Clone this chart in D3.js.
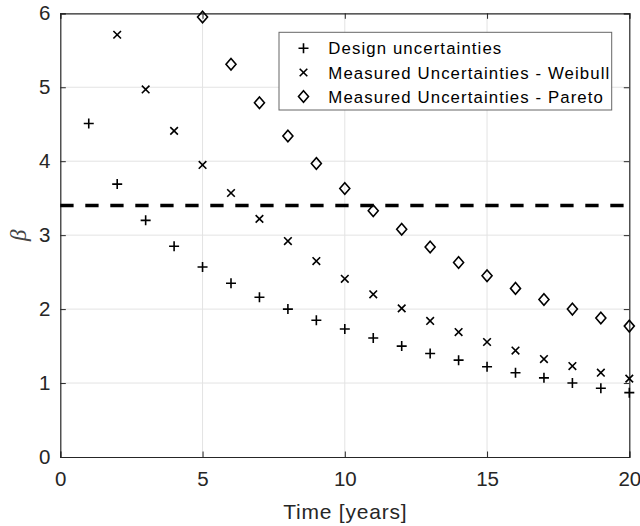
<!DOCTYPE html>
<html>
<head>
<meta charset="utf-8">
<script src="https://cdn.jsdelivr.net/npm/d3@7/dist/d3.min.js"></script>
<style>
  html, body { margin: 0; padding: 0; background: #fff; }
  svg { display: block; }
</style>
</head>
<body>
<svg id="chart" width="640" height="526"></svg>
<script>
// Reliability index beta over service time
const years = d3.range(1, 21);
const designBeta = [4.51, 3.69, 3.20, 2.85, 2.57, 2.35, 2.16, 2.00, 1.85, 1.73,
                    1.61, 1.50, 1.40, 1.31, 1.22, 1.14, 1.07, 1.00, 0.93, 0.87];
const weibullYears = d3.range(2, 21);
const weibullBeta = [5.71, 4.97, 4.41, 3.95, 3.57, 3.22, 2.92, 2.65, 2.41, 2.20,
                     2.01, 1.84, 1.69, 1.555, 1.44, 1.325, 1.23, 1.14, 1.06];
const paretoYears = d3.range(5, 21);
const paretoBeta = [5.95, 5.31, 4.79, 4.34, 3.97, 3.63, 3.33, 3.08, 2.84, 2.63,
                    2.45, 2.28, 2.13, 2.00, 1.88, 1.77];
const targetBeta = 3.4;
const xTicks = [0, 5, 10, 15, 20];
const yTicks = [0, 1, 2, 3, 4, 5, 6];
const legendLabels = ["Design uncertainties",
                      "Measured Uncertainties - Weibull",
                      "Measured Uncertainties - Pareto"];

const svg = d3.select("#chart");
const axisColor = "#262626";
const font = "'Liberation Sans', Arial, Helvetica, sans-serif";

const x = d3.scaleLinear().domain([0, 20]).range([60.3, 629.3]);
const y = d3.scaleLinear().domain([0, 6]).range([457, 13.3]);
const [x0, x1] = x.range();
const [y0, y1] = y.range();

// grid
const grid = svg.append("g").attr("stroke", "#e3e3e3").attr("stroke-width", 1);
xTicks.slice(1, -1).forEach(t => {
  grid.append("line").attr("x1", x(t)).attr("x2", x(t)).attr("y1", y0).attr("y2", y1);
});
yTicks.slice(1, -1).forEach(t => {
  grid.append("line").attr("x1", x0).attr("x2", x1).attr("y1", y(t)).attr("y2", y(t));
});

// axes with inward ticks on all four sides
const tickLen = 5.5;
const axB = svg.append("g").attr("transform", `translate(0,${y0})`)
  .call(d3.axisBottom(x).tickValues(xTicks).tickSize(-tickLen).tickPadding(14).tickFormat(d3.format("d")));
const axT = svg.append("g").attr("transform", `translate(0,${y1})`)
  .call(d3.axisTop(x).tickValues(xTicks).tickSize(-tickLen).tickFormat(""));
const axL = svg.append("g").attr("transform", `translate(${x0},0)`)
  .call(d3.axisLeft(y).tickValues(yTicks).tickSize(-tickLen).tickPadding(10).tickFormat(d3.format("d")));
const axR = svg.append("g").attr("transform", `translate(${x1},0)`)
  .call(d3.axisRight(y).tickValues(yTicks).tickSize(-tickLen).tickFormat(""));
[axB, axT, axL, axR].forEach(a => {
  a.selectAll("path.domain").attr("stroke", axisColor).attr("stroke-width", 1.2);
  a.selectAll(".tick line").attr("stroke", axisColor).attr("stroke-width", 1);
  a.selectAll("text").attr("fill", axisColor).attr("font-family", font).attr("font-size", 20.5);
});
axB.selectAll("text").attr("dy", "0.71em");

// axis labels
svg.append("text")
  .attr("x", (x0 + x1) / 2 + 0.5).attr("y", 519)
  .attr("text-anchor", "middle")
  .attr("font-family", font).attr("font-size", 21).attr("letter-spacing", 0.8)
  .attr("fill", axisColor)
  .text("Time [years]");
svg.append("text")
  .attr("transform", `translate(26,${(y0 + y1) / 2}) rotate(-90)`)
  .attr("text-anchor", "middle")
  .attr("font-family", "'Liberation Serif', 'DejaVu Serif', serif")
  .attr("font-style", "italic")
  .attr("font-size", 23).attr("fill", "#444")
  .text("β");

// target reliability line
svg.append("line")
  .attr("x1", x0).attr("x2", x1)
  .attr("y1", y(targetBeta)).attr("y2", y(targetBeta))
  .attr("stroke", "#000").attr("stroke-width", 3.5)
  .attr("stroke-dasharray", "13.3,11.7");

// marker shapes
function plusPath(s) { return `M${-s},0H${s}M0,${-s}V${s}`; }
function crossPath(s) { return `M${-s},${-s}L${s},${s}M${-s},${s}L${s},${-s}`; }
function diamondPath(w, h) { return `M0,${-h}L${w},0L0,${h}L${-w},0Z`; }

const marks = svg.append("g").attr("fill", "none").attr("stroke", "#000");
marks.selectAll("path.design").data(years.map((t, i) => [t, designBeta[i]]))
  .join("path").attr("class", "design")
  .attr("transform", d => `translate(${x(d[0])},${y(d[1])})`)
  .attr("d", plusPath(5)).attr("stroke-width", 1.6);
marks.selectAll("path.weibull").data(weibullYears.map((t, i) => [t, weibullBeta[i]]))
  .join("path").attr("class", "weibull")
  .attr("transform", d => `translate(${x(d[0])},${y(d[1])})`)
  .attr("d", crossPath(3.8)).attr("stroke-width", 1.6);
marks.selectAll("path.pareto").data(paretoYears.map((t, i) => [t, paretoBeta[i]]))
  .join("path").attr("class", "pareto")
  .attr("transform", d => `translate(${x(d[0])},${y(d[1])})`)
  .attr("d", diamondPath(5, 5.8)).attr("stroke-width", 1.6);

// legend
const lg = svg.append("g");
lg.append("rect")
  .attr("x", 279).attr("y", 32.3).attr("width", 332.7).attr("height", 77.7)
  .attr("fill", "#fff").attr("stroke", "#666").attr("stroke-width", 1);
const rowY = [48.3, 72.5, 96.5];
const shapes = [plusPath(5), crossPath(3.8), diamondPath(5, 5.8)];
legendLabels.forEach((lab, i) => {
  lg.append("path").attr("transform", `translate(303.5,${rowY[i]})`)
    .attr("d", shapes[i]).attr("fill", "none").attr("stroke", "#000").attr("stroke-width", 1.6);
  lg.append("text").attr("x", 328.3).attr("y", rowY[i]).attr("dy", "0.36em")
    .attr("font-family", font).attr("font-size", 16.8).attr("letter-spacing", 1.1)
    .attr("fill", "#000")
    .text(lab);
});
</script>
</body>
</html>
